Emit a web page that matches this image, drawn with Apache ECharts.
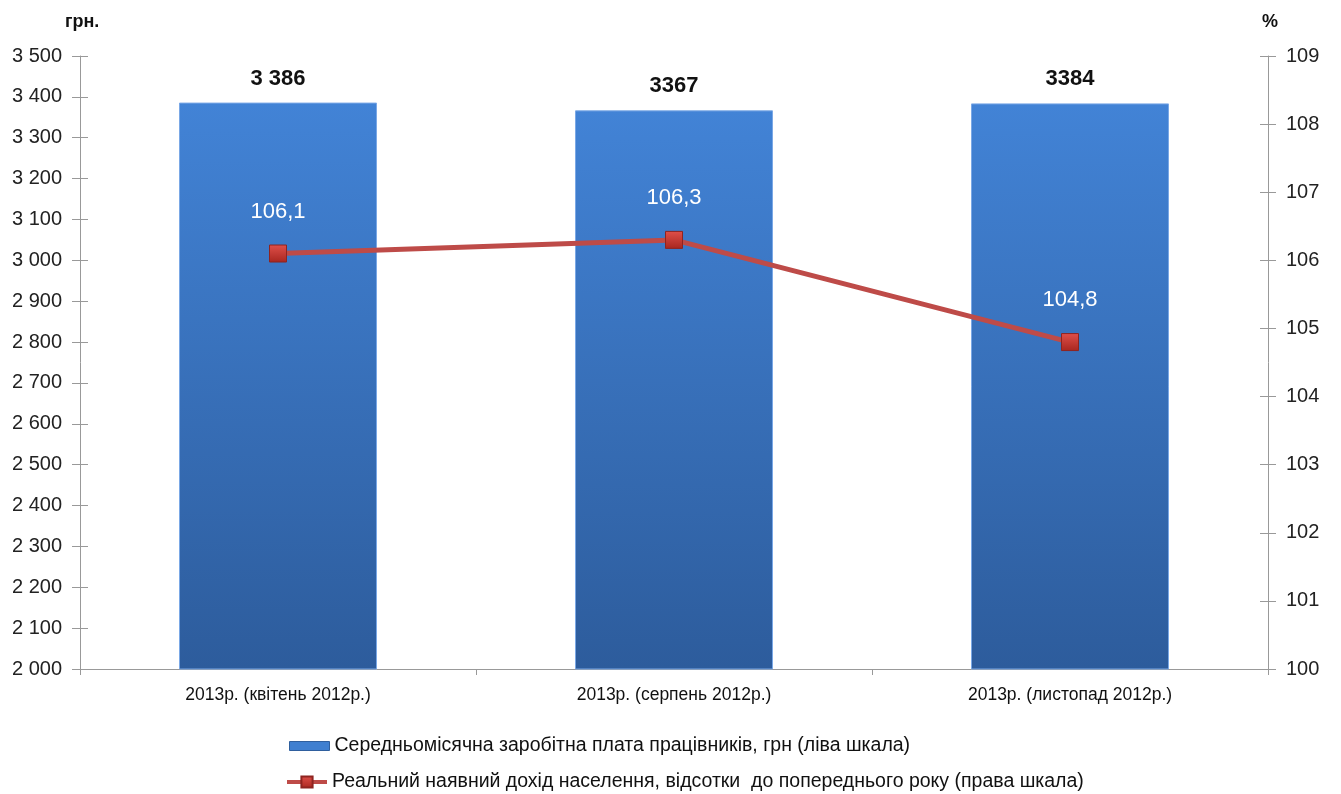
<!DOCTYPE html>
<html><head><meta charset="utf-8">
<script src="https://cdn.jsdelivr.net/npm/echarts@6/dist/echarts.min.js"></script>
<style>html,body{margin:0;padding:0;background:#fff}#c{width:1341px;height:794px}</style>
</head><body><div id="c"></div>
<script>
const categories = ['2013р. (квітень 2012р.)', '2013р. (серпень 2012р.)', '2013р. (листопад 2012р.)'];
const salary = [3386, 3367, 3384];
const salaryLabels = ['3 386', '3367', '3384'];
const income = [106.1, 106.3, 104.8];
const incomeLabels = ['106,1', '106,3', '104,8'];
const seriesNames = ['Середньомісячна заробітна плата працівників, грн (ліва шкала)',
  'Реальний наявний дохід населення, відсотки  до попереднього року (права шкала)'];

const font = 'Liberation Sans, Arial, sans-serif';
const chart = echarts.init(document.getElementById('c'));
const tickAxis = (pos, min, max, interval) => ({
  type: 'value', min, max, interval, position: pos, show: true,
  axisLine: { show: false }, axisLabel: { show: false }, splitLine: { show: false },
  axisTick: { show: true, inside: true, length: 8, lineStyle: { color: '#999' } }
});
const legendBase = {
  orient: 'horizontal', itemWidth: 40,
  textStyle: { fontSize: 19.5, color: '#111', fontFamily: font }
};
chart.setOption({
  animation: false,
  textStyle: { fontFamily: font },
  grid: { left: 80, right: 73, top: 56, bottom: 125 },
  legend: [
    Object.assign({}, legendBase, { left: 284, top: 731, itemHeight: 9,
      data: [{ name: seriesNames[0], icon: 'rect', itemStyle: { color: '#3f7fd0', borderColor: '#2f5f9e', borderWidth: 1 } }] }),
    Object.assign({}, legendBase, { left: 280, top: 767, itemHeight: 14,
      data: [{ name: seriesNames[1], lineStyle: { width: 4, color: '#be4b48' } }] })
  ],
  xAxis: {
    type: 'category', data: categories,
    axisLine: { lineStyle: { color: '#999', width: 1 } },
    axisTick: { show: true, length: 6, lineStyle: { color: '#999' } },
    axisLabel: { fontSize: 17.5, color: '#111', margin: 17 }
  },
  yAxis: [
    {
      type: 'value', min: 2000, max: 3500, interval: 100,
      name: 'грн.', nameLocation: 'end', nameGap: 25,
      nameTextStyle: { fontSize: 18, fontWeight: 'bold', color: '#111', align: 'left', padding: [0, 0, 0, -15] },
      axisLine: { show: true, lineStyle: { color: '#999' } },
      axisTick: { show: true, length: 8, lineStyle: { color: '#999' } },
      axisLabel: { fontSize: 20, color: '#222', margin: 18,
        formatter: v => String(v).replace(/(\d)(\d{3})$/, '$1 $2') },
      splitLine: { show: false }
    },
    {
      type: 'value', min: 100, max: 109, interval: 1, position: 'right',
      name: '%', nameLocation: 'end', nameGap: 25,
      nameTextStyle: { fontSize: 18, fontWeight: 'bold', color: '#111', align: 'left', padding: [0, 0, 0, -6] },
      axisLine: { show: true, lineStyle: { color: '#999' } },
      axisTick: { show: true, length: 8, lineStyle: { color: '#999' } },
      axisLabel: { fontSize: 20, color: '#222', margin: 18 },
      splitLine: { show: false }
    },
    tickAxis('left', 2000, 3500, 100),
    tickAxis('right', 100, 109, 1)
  ],
  series: [
    {
      name: seriesNames[0], type: 'bar', yAxisIndex: 0, data: salary, barWidth: '50%',
      itemStyle: {
        color: new echarts.graphic.LinearGradient(0, 0, 0, 1, [
          { offset: 0, color: '#4283d6' }, { offset: 1, color: '#2d5c9c' }
        ]),
        borderColor: '#7aa8e6', borderWidth: 1
      },
      label: { show: true, position: 'top', distance: 13, fontSize: 22, fontWeight: 'bold', color: '#111',
        formatter: p => salaryLabels[p.dataIndex] }
    },
    {
      name: seriesNames[1], type: 'line', yAxisIndex: 1, data: income,
      symbol: 'rect', symbolSize: 17,
      lineStyle: { color: '#be4b48', width: 5 },
      itemStyle: {
        color: new echarts.graphic.LinearGradient(0, 0, 0, 1, [
          { offset: 0, color: '#e0504a' }, { offset: 1, color: '#a8261f' }
        ]),
        borderColor: '#8e2420', borderWidth: 1
      },
      label: { show: true, position: 'top', distance: 22, fontSize: 22, color: '#fff',
        formatter: p => incomeLabels[p.dataIndex] }
    }
  ]
});
</script></body></html>
